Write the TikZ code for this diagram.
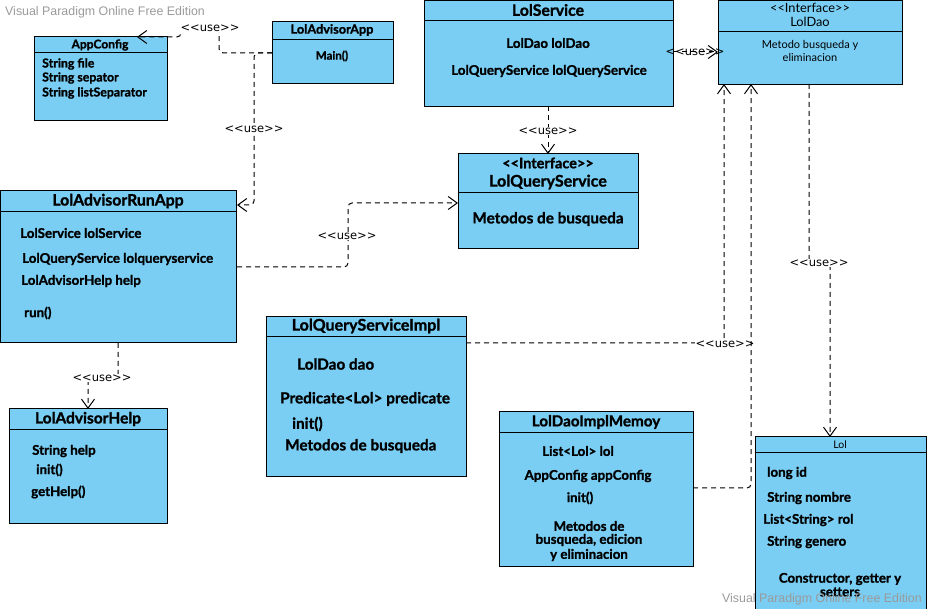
\documentclass[tikz,border=0pt]{standalone}
\usepackage{fontspec}
\setmainfont{Lato}[BoldFeatures={FakeBold=1.2}]
\newfontfamily\lblfont{DejaVu Sans}
\newfontfamily\wmfont{Liberation Sans}
\usetikzlibrary{arrows.meta}
\definecolor{clsblue}{HTML}{7ACEF4}
\definecolor{wmgray}{HTML}{9A9A9A}
\tikzset{
  cls/.style={draw=black, fill=clsblue, line width=1pt, anchor=north west, inner sep=0pt, outer sep=0pt},
  sepline/.style={draw=black, line width=1pt},
  ttl/.style={font=\bfseries\fontsize{15.5}{17}\selectfont, inner sep=0pt},
  txt/.style={font=\bfseries\fontsize{13.3}{15}\selectfont, anchor=west, inner sep=0pt},
  ctxt/.style={font=\bfseries\fontsize{13.3}{15}\selectfont, inner sep=0pt},
  dep/.style={draw=black, dash pattern=on 5pt off 4pt, line width=1pt, -{Straight Barb[length=9pt,width=13pt]}, rounded corners=4pt},
  lbl/.style={font=\lblfont\fontsize{11.5}{12}\selectfont, fill=white, inner sep=0.5pt},
  wm/.style={font=\wmfont\fontsize{12.4}{14}\selectfont, text=wmgray, inner sep=0pt}
}
\begin{document}
\begin{tikzpicture}[x=1pt,y=-1pt]
\useasboundingbox (0,0) rectangle (927,609);

% watermark
\node[wm, anchor=west] (wm1) at (5,12) {Visual Paradigm Online Free Edition};

% AppConfig
\node[cls, minimum width=133pt, minimum height=84pt] (appconfig) at (34,37) {};
\draw[sepline] (34,53) -- (167,53);
\node[ttl, font=\bfseries\fontsize{12}{14}\selectfont] (t1) at (100,45) {AppConfig};
\node[txt, font=\bfseries\fontsize{12.3}{14}\selectfont] (a1) at (42,64) {String file};
\node[txt, font=\bfseries\fontsize{12.3}{14}\selectfont] (a2) at (42,78) {String sepator};
\node[txt, font=\bfseries\fontsize{12.3}{14}\selectfont] (a3) at (42,93) {String listSeparator};

% LolAdvisorApp
\node[cls, minimum width=121pt, minimum height=62pt] (lapp) at (272,22) {};
\draw[sepline] (272,40) -- (393,40);
\node[ttl, font=\bfseries\fontsize{12.7}{14}\selectfont] (t2) at (332,30) {LolAdvisorApp};
\node[ctxt, font=\bfseries\fontsize{11.5}{13}\selectfont] (b1) at (332,56) {Main()};

% LolService
\node[cls, minimum width=249pt, minimum height=106pt] (lserv) at (424,0.5) {};
\draw[sepline] (424,21) -- (673,21);
\node[ttl, font=\bfseries\fontsize{15.8}{17}\selectfont] (t3) at (548,10) {LolService};
\node[ctxt] (c1) at (548,43) {LolDao lolDao};
\node[ctxt] (c2) at (549,71) {LolQueryService lolQueryService};

% LolDao
\node[cls, minimum width=184pt, minimum height=84pt] (ldao) at (718,0.5) {};
\draw[sepline] (718,32) -- (902,32);
\node[ctxt, font=\fontsize{12.8}{14}\selectfont] (t4a) at (810,8) {<{}<Interface>{}>};
\node[ctxt, font=\fontsize{12.8}{14}\selectfont] (t4b) at (810,22) {LolDao};
\node[ctxt, font=\fontsize{11}{12}\selectfont] (d1) at (810,45) {Metodo busqueda y};
\node[ctxt, font=\fontsize{11}{12}\selectfont] (d2) at (810,57) {eliminacion};

% LolQueryService
\node[cls, minimum width=180pt, minimum height=95pt] (lqs) at (458,154) {};
\draw[sepline] (458,193) -- (638,193);
\node[ctxt, font=\bfseries\fontsize{14.5}{16}\selectfont] (t5a) at (548,163) {<{}<Interface>{}>};
\node[ttl, font=\bfseries\fontsize{16}{18}\selectfont] (t5b) at (548,182) {LolQueryService};
\node[ctxt, font=\bfseries\fontsize{15.3}{17}\selectfont] (e1) at (548,219) {Metodos de busqueda};

% LolAdvisorRunApp
\node[cls, minimum width=236pt, minimum height=152pt] (lrun) at (0.5,191) {};
\draw[sepline] (0.5,212) -- (236.5,212);
\node[ttl, font=\bfseries\fontsize{15.8}{17}\selectfont] (t6) at (118,201) {LolAdvisorRunApp};
\node[txt] (f1) at (20,233) {LolService lolService};
\node[txt] (f2) at (22,259) {LolQueryService lolqueryservice};
\node[txt] (f3) at (21,281) {LolAdvisorHelp help};
\node[txt] (f4) at (24,313) {run()};

% LolQueryServiceImpl
\node[cls, minimum width=200pt, minimum height=160pt] (lqsi) at (266,317) {};
\draw[sepline] (266,337) -- (466,337);
\node[ttl, font=\bfseries\fontsize{16}{18}\selectfont] (t7) at (366,326) {LolQueryServiceImpl};
\node[txt, font=\bfseries\fontsize{15.3}{17}\selectfont] (g1) at (297,364) {LolDao dao};
\node[txt, font=\bfseries\fontsize{15.3}{17}\selectfont] (g2) at (280,399) {Predicate<Lol> predicate};
\node[txt, font=\bfseries\fontsize{15.3}{17}\selectfont] (g3) at (292,424) {init()};
\node[txt, font=\bfseries\fontsize{15.3}{17}\selectfont] (g4) at (285,446) {Metodos de busqueda};

% LolAdvisorHelp
\node[cls, minimum width=158pt, minimum height=115pt] (lhelp) at (9,409) {};
\draw[sepline] (9,430) -- (167,430);
\node[ttl] (t8) at (88,419) {LolAdvisorHelp};
\node[txt] (h1) at (32,451) {String help};
\node[txt] (h2) at (36,470) {init()};
\node[txt] (h3) at (31,492) {getHelp()};

% LolDaoImplMemoy
\node[cls, minimum width=194pt, minimum height=154pt] (ldim) at (499,412) {};
\draw[sepline] (499,433) -- (693,433);
\node[ttl, font=\bfseries\fontsize{15.2}{17}\selectfont] (t9) at (596,422) {LolDaoImplMemoy};
\node[ctxt] (i1) at (578,451) {List<Lol> lol};
\node[ctxt] (i2) at (588,476) {AppConfig appConfig};
\node[ctxt] (i3) at (580,498) {init()};
\node[ctxt] (i4) at (589,526) {Metodos de};
\node[ctxt] (i5) at (589,540) {busqueda, edicion};
\node[ctxt] (i6) at (589,555) {y eliminacion};

% Lol
\node[cls, minimum width=171pt, minimum height=180pt] (lol) at (755,437) {};
\draw[sepline] (755,453) -- (926,453);
\node[ctxt, font=\fontsize{10.5}{12}\selectfont] (t10) at (840,445) {Lol};
\node[txt] (j1) at (767,473) {long id};
\node[txt] (j2) at (767,498) {String nombre};
\node[txt] (j3) at (763,520) {List<String> rol};
\node[txt] (j4) at (767,542) {String genero};
\node[ctxt] (j5) at (840,579) {Constructor, getter y};
\node[ctxt] (j6) at (840,592) {setters};

% watermark bottom
\node[wm, anchor=east] (wm2) at (922,599) {Visual Paradigm Online Free Edition};

% connectors
\coordinate (acTip) at (137,37);
\draw[dep] (lapp.west) -- (219,53) -- (219,28) -- (181,28) -- (181,37) -- (acTip);
\node[lbl] (u1) at (210,28) {<{}<use>{}>};

\coordinate (runTip) at (237,205);
\draw[dep] (lapp.west) -- (254,53) -- (254,205) -- (runTip);
\node[lbl] (u2) at (254,129) {<{}<use>{}>};

\coordinate (runOut) at (237,267);
\coordinate (lqsIn) at (458,203);
\draw[dep] (runOut) -- (348,267) -- (348,203) -- (lqsIn);
\node[lbl] (u3) at (347,236) {<{}<use>{}>};

\draw[dep] (lserv.south -| 548,0) -- (lqs.north -| 548,0);
\node[lbl] (u4) at (548,131) {<{}<use>{}>};

\coordinate (servOut) at (673,52);
\coordinate (daoIn) at (718,52);
\draw[dep] (servOut) -- (daoIn);
\node[lbl, fill=none] (u5) at (695,52) {<{}<use>{}>};

\coordinate (qsiOut) at (466,343);
\coordinate (daoIn1) at (724,84);
\draw[dep] (qsiOut) -- (724,343) -- (daoIn1);
\node[lbl] (u6) at (725,344) {<{}<use>{}>};

\coordinate (dimOut) at (693,488);
\coordinate (daoIn2) at (751,84);
\draw[dep] (dimOut) -- (751,488) -- (daoIn2);

\coordinate (daoOut) at (809,84);
\coordinate (lolIn) at (830,437);
\draw[dep] (daoOut) -- (809,263) -- (830,263) -- (lolIn);
\node[lbl] (u7) at (819,263) {<{}<use>{}>};

\coordinate (runOut2) at (118,343);
\coordinate (helpIn) at (88,409);
\draw[dep] (runOut2) -- (118,378) -- (88,378) -- (helpIn);
\node[lbl] (u8) at (102,378) {<{}<use>{}>};
\end{tikzpicture}
\end{document}
